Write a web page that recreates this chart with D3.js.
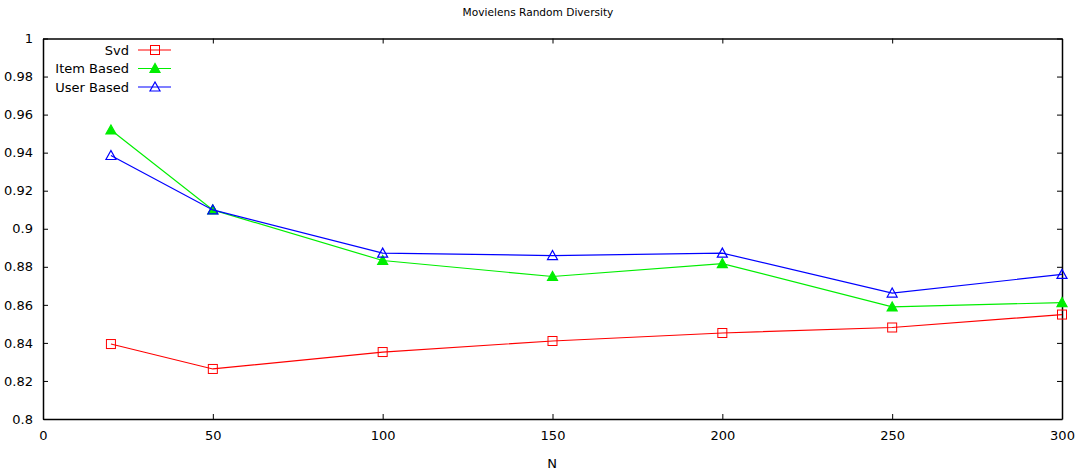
<!DOCTYPE html>
<html>
<head>
<meta charset="utf-8">
<script src="https://cdn.jsdelivr.net/npm/d3@7"></script>
<style>
  body { margin: 0; background: #fff; }
  text { font-family: "DejaVu Sans", sans-serif; fill: #000; }
</style>
</head>
<body>
<script>
const width = 1077;
const height = 470;
const margin = {top: 38.5, right: 15, bottom: 51, left: 43};

// data
var nValues = [20, 50, 100, 150, 200, 250, 300];
var svdValues = [0.8394, 0.8263, 0.8352, 0.8410, 0.8452, 0.8481, 0.8549];
var itemValues = [0.9519, 0.9099, 0.8833, 0.8749, 0.8817, 0.8589, 0.8612];
var userValues = [0.9385, 0.9099, 0.8872, 0.8859, 0.8872, 0.8662, 0.8760];
var xTicks = [0, 50, 100, 150, 200, 250, 300];
var yTicks = [0.8, 0.82, 0.84, 0.86, 0.88, 0.9, 0.92, 0.94, 0.96, 0.98, 1];

var seriesList = [
    {name: "Svd", values: svdValues, color: "#ff0000", marker: "square"},
    {name: "Item Based", values: itemValues, color: "#00ee00", marker: "triFilled"},
    {name: "User Based", values: userValues, color: "#0000ff", marker: "triOpen"}
];

var svg = d3.select("body").append("svg")
    .attr("width", width)
    .attr("height", height);

var x_scale = d3.scaleLinear().domain([0, 300]).range([margin.left, width - margin.right]);
var y_scale = d3.scaleLinear().domain([0.8, 1]).range([height - margin.bottom, margin.top]);

//title
svg.append("text")
    .attr("x", 538)
    .attr("y", 16)
    .attr("text-anchor", "middle")
    .style("font-size", "10.6px")
    .text("Movielens Random Diversity");

//axes, ticks pointing inward, mirrored on top and right
var x_axis = d3.axisBottom(x_scale).tickValues(xTicks).tickSizeInner(-5).tickSizeOuter(0).tickPadding(12);
var y_axis = d3.axisLeft(y_scale).tickValues(yTicks).tickFormat(d3.format("")).tickSizeInner(-5).tickSizeOuter(0).tickPadding(10);
var x_top = d3.axisTop(x_scale).tickValues(xTicks).tickSizeInner(-5).tickSizeOuter(0).tickFormat("");
var y_right = d3.axisRight(y_scale).tickValues(yTicks).tickSizeInner(-5).tickSizeOuter(0).tickFormat("");

var gx = svg.append("g").attr("transform", "translate(0," + (height - margin.bottom) + ")").call(x_axis);
var gy = svg.append("g").attr("transform", "translate(" + margin.left + ",0)").call(y_axis);
var gt = svg.append("g").attr("transform", "translate(0," + margin.top + ")").call(x_top);
var gr = svg.append("g").attr("transform", "translate(" + (width - margin.right) + ",0)").call(y_right);

[gx, gy, gt, gr].forEach(function (g) {
    g.selectAll(".domain").attr("stroke", "#000").attr("stroke-width", 1.5);
    g.selectAll(".tick line").attr("stroke", "#000");
    g.selectAll(".tick text").style("font-size", "13px").style("font-family", "DejaVu Sans, sans-serif");
});

svg.append("text")
    .attr("x", 552)
    .attr("y", 468)
    .attr("text-anchor", "middle")
    .style("font-size", "13px")
    .text("N");

function drawMarker(g, type, color, cx, cy) {
    if (type === "square") {
        g.append("rect")
            .attr("x", cx - 4.5).attr("y", cy - 4.5)
            .attr("width", 9).attr("height", 9)
            .attr("fill", "none").attr("stroke", color).attr("stroke-width", 1);
    } else {
        var s = 5;
        var pts = [[cx, cy - s], [cx - s, cy + s * 0.8], [cx + s, cy + s * 0.8]];
        g.append("path")
            .attr("d", d3.line()(pts) + "Z")
            .attr("fill", type === "triFilled" ? color : "none")
            .attr("stroke", color).attr("stroke-width", 1.2);
    }
}

var line = d3.line()
    .x(function (d, i) { return x_scale(nValues[i]); })
    .y(function (d) { return y_scale(d); });

seriesList.forEach(function (s) {
    var g = svg.append("g");
    g.append("path")
        .attr("d", line(s.values))
        .attr("fill", "none")
        .attr("stroke", s.color)
        .attr("stroke-width", 1.2);
    s.values.forEach(function (v, i) {
        drawMarker(g, s.marker, s.color, x_scale(nValues[i]), y_scale(v));
    });
});

//legend
seriesList.forEach(function (s, i) {
    var ly = 50 + i * 18.5;
    svg.append("text")
        .attr("x", 129)
        .attr("y", ly + 4.5)
        .attr("text-anchor", "end")
        .style("font-size", "13px")
        .text(s.name);
    svg.append("line")
        .attr("x1", 138).attr("x2", 171)
        .attr("y1", ly).attr("y2", ly)
        .attr("stroke", s.color).attr("stroke-width", 1.2);
    drawMarker(svg, s.marker, s.color, 155, ly);
});
</script>
</body>
</html>
